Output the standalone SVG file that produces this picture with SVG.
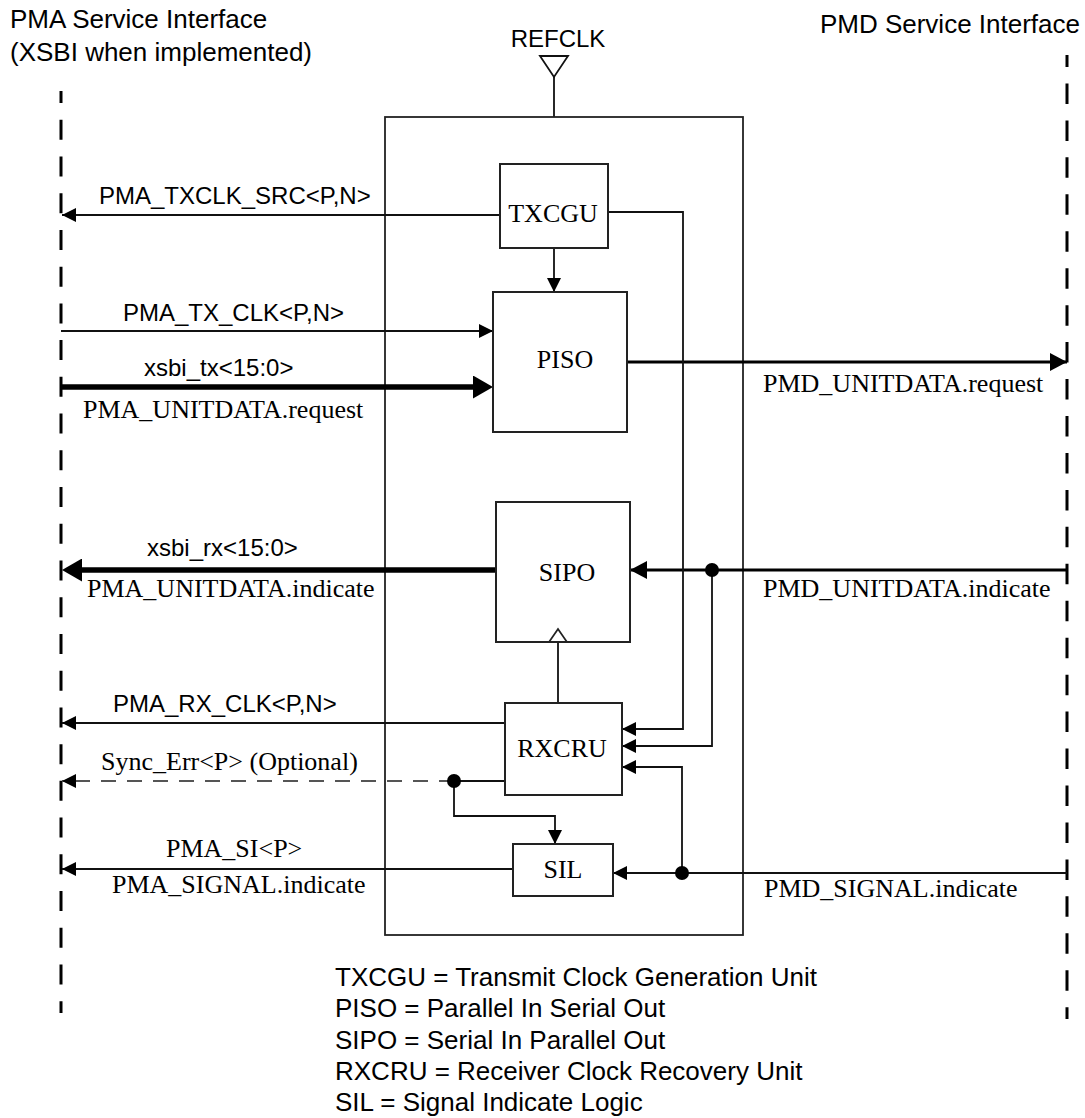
<svg xmlns="http://www.w3.org/2000/svg" width="1085" height="1118" viewBox="0 0 1085 1118">
<style>
.sans{font-family:"Liberation Sans",Arial,sans-serif;fill:#000}
.serif{font-family:"Liberation Serif","Times New Roman",serif;font-size:26px;fill:#000}
.lbl{font-size:24px}
.hdr{font-size:26px}
.box{fill:#fff;stroke:#222;stroke-width:2}
.thin{fill:none;stroke:#111;stroke-width:1.8}
.med{fill:none;stroke:#000;stroke-width:3}
.thick{fill:none;stroke:#000;stroke-width:5.5}
.dash{fill:none;stroke:#555;stroke-width:2;stroke-dasharray:15 11}
.iface{fill:none;stroke:#000;stroke-width:3}
.dot{fill:#000}
</style>
<defs>
<marker id="as" markerUnits="userSpaceOnUse" markerWidth="14" markerHeight="14" viewBox="0 0 14 14" refX="14" refY="7" orient="auto"><path d="M0,0 L14,7 L0,14 z" fill="#000"/></marker>
<marker id="am" markerUnits="userSpaceOnUse" markerWidth="17" markerHeight="18" viewBox="0 0 17 18" refX="17" refY="9" orient="auto"><path d="M0,0 L17,9 L0,18 z" fill="#000"/></marker>
<marker id="al" markerUnits="userSpaceOnUse" markerWidth="20" markerHeight="23" viewBox="0 0 20 23" refX="14" refY="11.5" orient="auto"><path d="M0,0 L20,11.5 L0,23 z" fill="#000"/></marker>
</defs>

<g id="interfaces">
<path class="iface" d="M61,91 V1013" style="stroke-dasharray:20 16.73;stroke-dashoffset:8"/>
<path class="iface" d="M1067,55 V1019" style="stroke-dasharray:20.5 16.45;stroke-dashoffset:8.5"/>
<text class="sans hdr" x="10" y="28">PMA Service Interface</text>
<text class="sans hdr" x="10" y="61">(XSBI when implemented)</text>
<text class="sans hdr" x="1080" y="33" text-anchor="end">PMD Service Interface</text>
</g>

<g id="refclk">
<polygon points="540,56 568,56 554,77" fill="#fff" stroke="#111" stroke-width="1.8"/>
<path class="thin" d="M554,77 V164"/>
<text class="sans lbl" x="558" y="47" text-anchor="middle">REFCLK</text>
</g>

<g id="pma">
<rect class="box" x="385" y="117" width="358" height="818" style="stroke-width:1.8"/>
</g>

<g id="connectors">
<path class="thin" d="M500,215 H62" marker-end="url(#as)"/>
<path class="thin" d="M554,248 V292" marker-end="url(#as)"/>
<path class="thin" d="M61,331 H493" marker-end="url(#as)"/>
<path class="thick" d="M61,387 H487" marker-end="url(#al)"/>
<path class="med" d="M627,362 H1067" marker-end="url(#am)"/>
<path class="med" d="M1067,570 H630" marker-end="url(#am)"/>
<path class="thick" d="M496,570 H68" marker-end="url(#al)"/>
<path class="thin" d="M558,703 V642"/>
<path class="thin" d="M505,723 H62" marker-end="url(#as)"/>
<path class="thin" d="M608,212 H683 V729 H622" marker-end="url(#as)"/>
<path class="thin" d="M712,570 V746 H622" marker-end="url(#as)"/>
<path class="thin" d="M682,873 V767 H622" marker-end="url(#as)"/>
<path class="thin" d="M1067,873 H613" marker-end="url(#as)"/>
<path class="thin" d="M505,781 H454"/>
<path class="dash" d="M454,781 H62" marker-end="url(#as)"/>
<path class="thin" d="M454,781 V816 H555 V844" marker-end="url(#as)"/>
<path class="thin" d="M513,869 H62" marker-end="url(#as)"/>
<circle class="dot" cx="712" cy="570" r="7"/>
<circle class="dot" cx="682" cy="873" r="7"/>
<circle class="dot" cx="454" cy="781" r="7"/>
<text class="sans lbl" x="99" y="204">PMA_TXCLK_SRC&lt;P,N&gt;</text>
<text class="sans lbl" x="123" y="321">PMA_TX_CLK&lt;P,N&gt;</text>
<text class="sans lbl" x="144" y="376">xsbi_tx&lt;15:0&gt;</text>
<text class="serif" x="83" y="418">PMA_UNITDATA.request</text>
<text class="serif" x="763" y="392">PMD_UNITDATA.request</text>
<text class="sans lbl" x="147" y="556">xsbi_rx&lt;15:0&gt;</text>
<text class="serif" x="87" y="597">PMA_UNITDATA.indicate</text>
<text class="serif" x="763" y="597">PMD_UNITDATA.indicate</text>
<text class="sans lbl" x="113" y="712">PMA_RX_CLK&lt;P,N&gt;</text>
<text class="serif" x="101" y="770">Sync_Err&lt;P&gt; (Optional)</text>
<text class="serif" x="166" y="857">PMA_SI&lt;P&gt;</text>
<text class="serif" x="112" y="893">PMA_SIGNAL.indicate</text>
<text class="serif" x="764" y="897">PMD_SIGNAL.indicate</text>
</g>

<g id="txcgu">
<rect class="box" x="500" y="164" width="108" height="84"/>
<text class="serif" x="553" y="222" text-anchor="middle">TXCGU</text>
</g>
<g id="piso">
<rect class="box" x="493" y="292" width="134" height="140"/>
<text class="serif" x="565" y="368" text-anchor="middle">PISO</text>
</g>
<g id="sipo">
<rect class="box" x="496" y="502" width="134" height="140"/>
<polygon points="549,642 567,642 558,629" fill="#fff" stroke="#222" stroke-width="1.8"/>
<text class="serif" x="567" y="581" text-anchor="middle">SIPO</text>
</g>
<g id="rxcru">
<rect class="box" x="505" y="703" width="117" height="92"/>
<text class="serif" x="562" y="757" text-anchor="middle">RXCRU</text>
</g>
<g id="sil">
<rect class="box" x="513" y="844" width="100" height="52"/>
<text class="serif" x="563" y="878" text-anchor="middle">SIL</text>
</g>

<g id="legend">
<text class="sans hdr" x="335" y="986">TXCGU = Transmit Clock Generation Unit</text>
<text class="sans hdr" x="335" y="1017">PISO = Parallel In Serial Out</text>
<text class="sans hdr" x="335" y="1049">SIPO = Serial In Parallel Out</text>
<text class="sans hdr" x="335" y="1080">RXCRU = Receiver Clock Recovery Unit</text>
<text class="sans hdr" x="335" y="1111">SIL = Signal Indicate Logic</text>
</g>
</svg>
